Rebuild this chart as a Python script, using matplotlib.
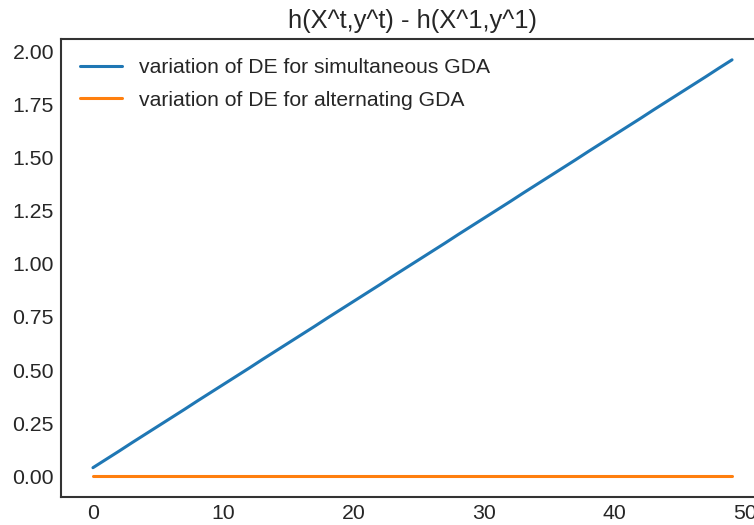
import matplotlib.pyplot as plt
import seaborn as sns

# iterations and the two DE variations
iters = list(range(50))
de_simultaneous = [0.040, 0.079, 0.118, 0.158, 0.197, 0.236, 0.275, 0.314, 0.354, 0.393,
                   0.432, 0.471, 0.510, 0.550, 0.589, 0.628, 0.667, 0.706, 0.746, 0.785,
                   0.824, 0.863, 0.902, 0.942, 0.981, 1.020, 1.059, 1.098, 1.138, 1.177,
                   1.216, 1.255, 1.294, 1.334, 1.373, 1.412, 1.451, 1.490, 1.530, 1.569,
                   1.608, 1.647, 1.686, 1.726, 1.765, 1.804, 1.843, 1.882, 1.922, 1.961]
de_alternating = [0.0] * 50

sns.set_style('white')
plt.rcParams['font.family'] = ['Liberation Sans', 'DejaVu Sans']
plt.rcParams['text.color'] = '#262626'
plt.rcParams['xtick.color'] = '#262626'
plt.rcParams['ytick.color'] = '#262626'

fig = plt.figure(figsize=(7.54, 5.25), dpi=100)
ax = fig.add_axes([61 / 754, 28 / 525, 703 / 754, 458 / 525])

ax.plot(iters, de_simultaneous, color='#1f77b4', lw=2.2, label='variation of DE for simultaneous GDA')
ax.plot(iters, de_alternating, color='#ff7f0e', lw=2.2, label='variation of DE for alternating GDA')

ax.set_title('h(X^t,y^t) - h(X^1,y^1)', fontsize=18.4, pad=8)
ax.tick_params(labelsize=15.3, pad=1.5)
for s in ax.spines.values():
    s.set_color('#333333')
    s.set_linewidth(1.5)
ax.legend(loc='upper left', frameon=False, fontsize=15.2, labelspacing=0.65)

fig.savefig('out.png', dpi=100)
